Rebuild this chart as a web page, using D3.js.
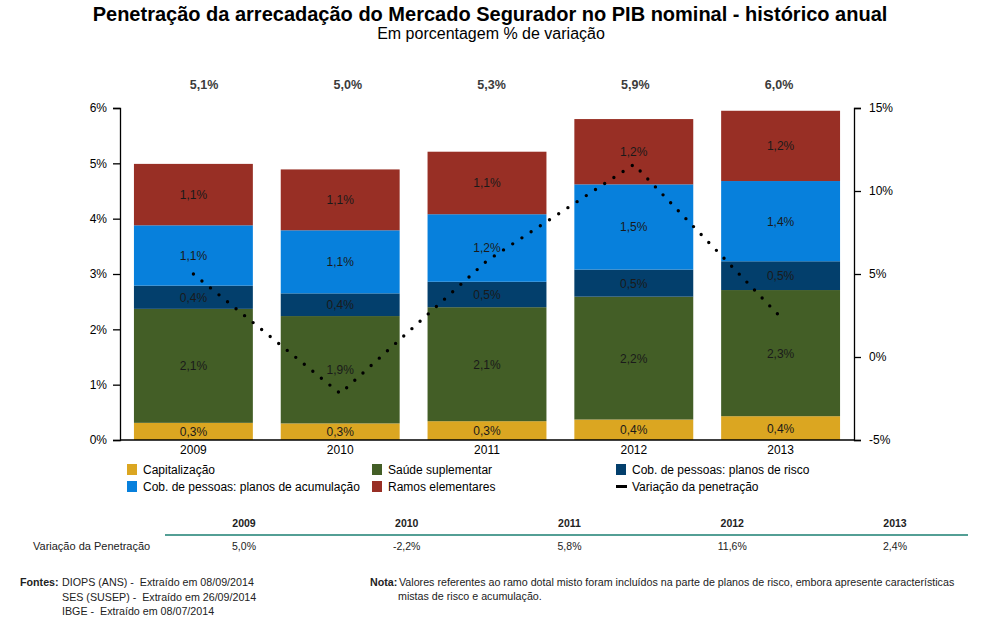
<!DOCTYPE html>
<html>
<head>
<meta charset="utf-8">
<script src="https://cdn.jsdelivr.net/npm/d3@7"></script>
<style>
  html, body { margin: 0; padding: 0; background: #ffffff; }
  svg text { font-family: "Liberation Sans", Arial, sans-serif; white-space: pre; }
</style>
</head>
<body>
<svg id="chart" width="990" height="629"></svg>
<script>
// ---------- DATA ----------
const years = ["2009", "2010", "2011", "2012", "2013"];
const seriesNames = [
  "Capitalização",
  "Saúde suplementar",
  "Cob. de pessoas: planos de risco",
  "Cob. de pessoas: planos de acumulação",
  "Ramos elementares"
];
const capitalizacao = [0.31, 0.30, 0.34, 0.37, 0.43];
const saude = [2.06, 1.94, 2.06, 2.22, 2.28];
const risco = [0.42, 0.41, 0.46, 0.49, 0.52];
const acumulacao = [1.09, 1.14, 1.22, 1.54, 1.45];
const ramos = [1.11, 1.10, 1.13, 1.18, 1.27];
const capitalizacaoLabels = ["0,3%", "0,3%", "0,3%", "0,4%", "0,4%"];
const saudeLabels = ["2,1%", "1,9%", "2,1%", "2,2%", "2,3%"];
const riscoLabels = ["0,4%", "0,4%", "0,5%", "0,5%", "0,5%"];
const acumulacaoLabels = ["1,1%", "1,1%", "1,2%", "1,5%", "1,4%"];
const ramosLabels = ["1,1%", "1,1%", "1,1%", "1,2%", "1,2%"];
const totalLabels = ["5,1%", "5,0%", "5,3%", "5,9%", "6,0%"];
const variacao = [5.0, -2.2, 5.8, 11.6, 2.4];
const variacaoLabels = ["5,0%", "-2,2%", "5,8%", "11,6%", "2,4%"];
const leftTicks = [0, 1, 2, 3, 4, 5, 6];
const rightTicks = [-5, 0, 5, 10, 15];
const colors = ["#DBA621", "#435E26", "#033F6C", "#0780DC", "#982F25"];
const fontes = [
  "DIOPS (ANS) -  Extraído em 08/09/2014",
  "SES (SUSEP) -  Extraído em 26/09/2014",
  "IBGE -  Extraído em 08/07/2014"
];
const notaLines = [
  "Valores referentes ao ramo dotal misto foram incluídos na parte de planos de risco, embora apresente características",
  "mistas de risco e acumulação."
];

// ---------- SETUP ----------
const svg = d3.select("#chart");
const seriesValues = [capitalizacao, saude, risco, acumulacao, ramos];
const seriesLabels = [capitalizacaoLabels, saudeLabels, riscoLabels, acumulacaoLabels, ramosLabels];

const x = d3.scaleBand().domain(years).range([120, 854]).paddingInner(0.19).paddingOuter(0.095);
const y = d3.scaleLinear().domain([0, 6]).range([440, 108]);
const y2 = d3.scaleLinear().domain([-5, 15]).range([440, 108]);

// title
svg.append("text").attr("x", 490).attr("y", 21).attr("text-anchor", "middle")
  .style("font-size", "20px").style("font-weight", "bold").attr("fill", "#000")
  .text("Penetração da arrecadação do Mercado Segurador no PIB nominal - histórico anual");
svg.append("text").attr("x", 491).attr("y", 38.5).attr("text-anchor", "middle")
  .style("font-size", "16px").attr("fill", "#000")
  .text("Em porcentagem % de variação");

// stacked data
const table = years.map((yr, i) => {
  const o = { year: yr };
  seriesNames.forEach((s, j) => { o[s] = seriesValues[j][i]; });
  return o;
});
const stack = d3.stack().keys(seriesNames)(table);

const g = svg.append("g");
stack.forEach((layer, j) => {
  g.selectAll(null).data(layer).enter().append("rect")
    .attr("x", d => x(d.data.year))
    .attr("width", x.bandwidth())
    .attr("y", d => y(d[1]))
    .attr("height", d => y(d[0]) - y(d[1]))
    .attr("fill", colors[j]);
});
// segment labels
stack.forEach((layer, j) => {
  g.selectAll(null).data(layer).enter().append("text")
    .attr("x", d => x(d.data.year) + x.bandwidth() / 2)
    .attr("y", d => (y(d[0]) + y(d[1])) / 2 + 4.5)
    .attr("text-anchor", "middle")
    .style("font-size", "12px").attr("fill", "#1a1a1a")
    .text((d, i) => seriesLabels[j][i]);
});

// total labels above
const xt = d3.scalePoint().domain(years).range([204, 779]);
svg.selectAll(null).data(years).enter().append("text")
  .attr("x", d => xt(d)).attr("y", 89).attr("text-anchor", "middle")
  .style("font-size", "12.5px").style("font-weight", "bold").attr("fill", "#3b3b3b")
  .text((d, i) => totalLabels[i]);

// axes
const axL = svg.append("g").attr("transform", "translate(120,0)")
  .call(d3.axisLeft(y).tickValues(leftTicks).tickSize(7).tickFormat(d => d + "%"));
const axR = svg.append("g").attr("transform", "translate(854,0)")
  .call(d3.axisRight(y2).tickValues(rightTicks).tickSize(7).tickFormat(d => d + "%"));
const axB = svg.append("g").attr("transform", "translate(0,440)")
  .call(d3.axisBottom(x).tickSize(0).tickPadding(5));
[axL, axR, axB].forEach(a => {
  a.selectAll("path").attr("stroke", "#000").attr("stroke-width", 1.3);
  a.selectAll("line").attr("stroke", "#000").attr("stroke-width", 1.3);
  a.selectAll("text").style("font-size", "12px").attr("fill", "#000")
    .style("font-family", "'Liberation Sans', Arial, sans-serif");
});
axB.select("path").attr("d", "M120,0H854");
axL.selectAll("text").attr("x", -13);
axR.selectAll("text").attr("x", 15);
axB.selectAll("text").attr("dy", "0.71em");

// dotted line
const line = d3.line().x((d, i) => x(years[i]) + x.bandwidth() / 2).y(d => y2(d));
svg.append("path").datum(variacao).attr("d", line)
  .attr("fill", "none").attr("stroke", "#000").attr("stroke-width", 3.4)
  .attr("stroke-linecap", "round").attr("stroke-dasharray", "0,11");

// legend
const legendItems = [
  { name: seriesNames[0], color: colors[0], lx: 127, ly: 464 },
  { name: seriesNames[1], color: colors[1], lx: 372, ly: 464 },
  { name: seriesNames[2], color: colors[2], lx: 616, ly: 464 },
  { name: seriesNames[3], color: colors[3], lx: 127, ly: 481 },
  { name: seriesNames[4], color: colors[4], lx: 372, ly: 481 }
];
const lg = svg.append("g");
legendItems.forEach(it => {
  lg.append("rect").attr("x", it.lx).attr("y", it.ly).attr("width", 10).attr("height", 11).attr("fill", it.color);
  lg.append("text").attr("x", it.lx + 16).attr("y", it.ly + 9.5).style("font-size", "12px").attr("fill", "#000").text(it.name);
});
lg.append("line").attr("x1", 616).attr("x2", 627).attr("y1", 486.5).attr("y2", 486.5)
  .attr("stroke", "#000").attr("stroke-width", 3);
lg.append("text").attr("x", 632).attr("y", 490.5).style("font-size", "12px").attr("fill", "#000").text("Variação da penetração");

// table
const tx = d3.scalePoint().domain(years).range([244, 895]);
svg.selectAll(null).data(years).enter().append("text")
  .attr("x", d => tx(d)).attr("y", 527).attr("text-anchor", "middle")
  .style("font-size", "10.5px").style("font-weight", "bold").attr("fill", "#222").text(d => d);
svg.append("line").attr("x1", 165).attr("x2", 968).attr("y1", 535).attr("y2", 535)
  .attr("stroke", "#1A7F72").attr("stroke-width", 1.5);
svg.append("text").attr("x", 33).attr("y", 550).style("font-size", "11px").attr("fill", "#222").text("Variação da Penetração");
svg.selectAll(null).data(years).enter().append("text")
  .attr("x", d => tx(d)).attr("y", 550).attr("text-anchor", "middle")
  .style("font-size", "10.5px").attr("fill", "#222").text((d, i) => variacaoLabels[i]);

// footer
svg.append("text").attr("x", 20).attr("y", 586).style("font-size", "10.7px").style("font-weight", "bold").attr("fill", "#222").text("Fontes:");
fontes.forEach((t, i) => {
  svg.append("text").attr("x", 62).attr("y", 586 + i * 14.5).style("font-size", "10.7px").attr("fill", "#222").text(t);
});
svg.append("text").attr("x", 370).attr("y", 586).style("font-size", "10.7px").style("font-weight", "bold").attr("fill", "#222").text("Nota:");
svg.append("text").attr("x", 399).attr("y", 586).style("font-size", "10.7px").attr("fill", "#222").text(notaLines[0]);
svg.append("text").attr("x", 398).attr("y", 600).style("font-size", "10.7px").attr("fill", "#222").text(notaLines[1]);
</script>
</body>
</html>
